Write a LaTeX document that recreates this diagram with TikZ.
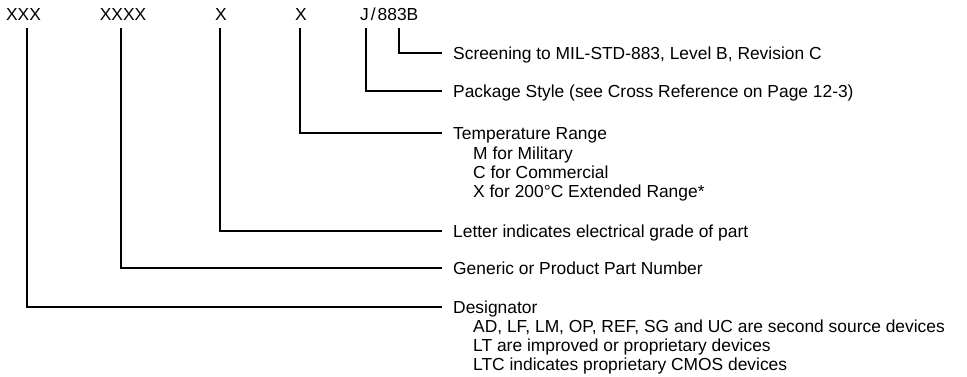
\documentclass[tikz,border=0pt]{standalone}
\usepackage{fontspec}
\setmainfont{Liberation Sans}
\begin{document}
\begin{tikzpicture}[x=1pt,y=-1pt,
  txt/.style={font=\fontsize{17.4}{19}\selectfont},
  code/.style={txt, inner sep=0pt, anchor=base},
  title/.style={txt, text height=12.5pt, text depth=0pt, inner ysep=0pt, inner xsep=11pt, anchor=west},
  sub/.style={txt, inner sep=0pt, anchor=base west},
  conn/.style={line width=1.6pt, line join=miter}]
\useasboundingbox (0,0) rectangle (967,376);
% top code letters
\node[code] (pxxx)  at (23.5,20) {XXX};
\node[code] (pxxxx) at (123,20) {XXXX};
\node[code] (pgrade) at (221,20) {X};
\node[code] (ptemp) at (301,20) {X};
\node[code, anchor=base west] (ppkg) at (360,20) {J\kern2pt/\kern2pt883B};
% connector tops
\coordinate (cscr)  at (399,28);
\coordinate (cpkg)  at (366,28);
\coordinate (ctemp) at (300,28);
\coordinate (cgrade) at (220,28);
\coordinate (cnum)  at (121,28);
\coordinate (cdes)  at (27,28);
% descriptions
\node[title] (tscr)  at (442,53) {Screening to MIL-STD-883, Level B, Revision C};
\node[title] (tpkg)  at (442,91) {Package Style (see Cross Reference on Page 12-3)};
\node[title] (ttemp) at (442,133) {Temperature Range};
\node[sub] (stemp1) at (473,159) {M for Military};
\node[sub] (stemp2) at (473,178) {C for Commercial};
\node[sub] (stemp3) at (473,197) {X for 200°C Extended Range*};
\node[title] (tgrade) at (442,231) {Letter indicates electrical grade of part};
\node[title] (tnum)  at (442,268) {Generic or Product Part Number};
\node[title] (tdes)  at (442,307) {Designator};
\node[sub] (sdes1) at (473,332) {AD, LF, LM, OP, REF, SG and UC are second source devices};
\node[sub] (sdes2) at (473,351) {LT are improved or proprietary devices};
\node[sub] (sdes3) at (473,370) {LTC indicates proprietary CMOS devices};
% connectors
\draw[conn] (cscr) |- (tscr.west);
\draw[conn] (cpkg) |- (tpkg.west);
\draw[conn] (ctemp) |- (ttemp.west);
\draw[conn] (cgrade) |- (tgrade.west);
\draw[conn] (cnum) |- (tnum.west);
\draw[conn] (cdes) |- (tdes.west);
\end{tikzpicture}
\end{document}
